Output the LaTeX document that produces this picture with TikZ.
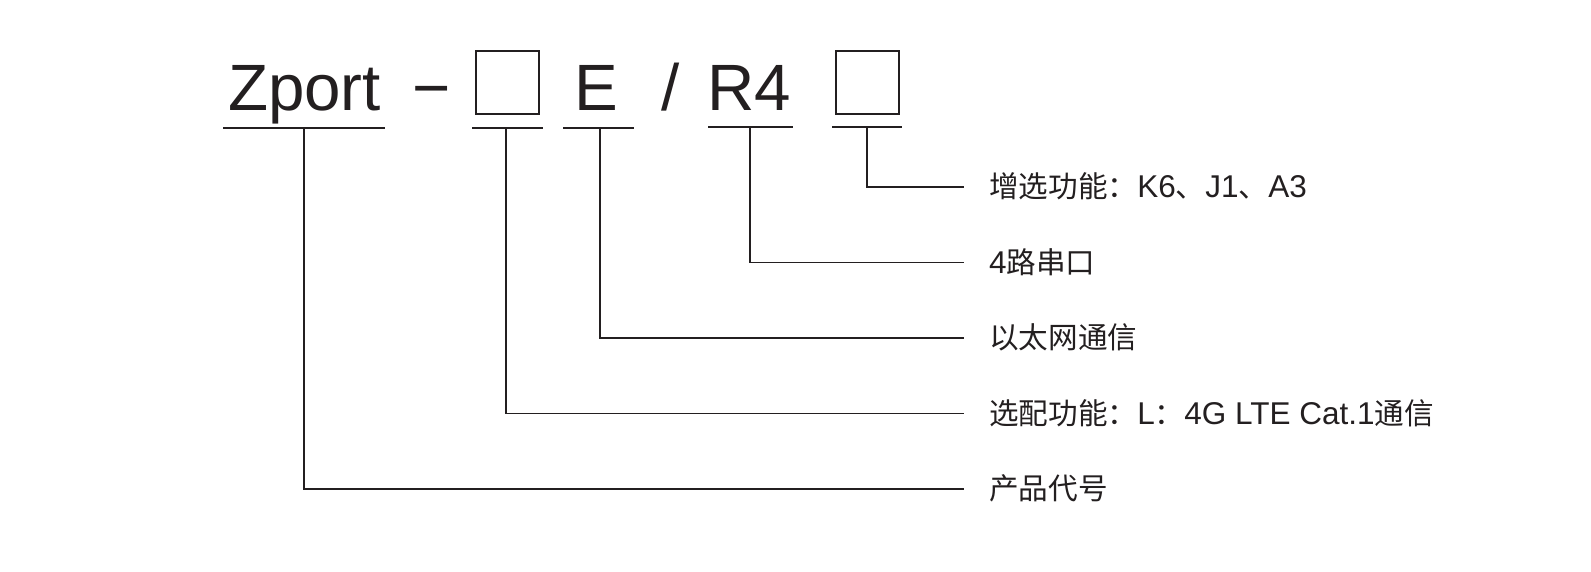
\documentclass[tikz,border=0pt]{standalone}
\usepackage{fontspec}
\setmainfont{Liberation Sans}
\newfontfamily\cjk{Noto Sans CJK SC}[Scale=0.94]
\definecolor{ink}{RGB}{35,31,32}
\begin{document}
\begin{tikzpicture}[x=1pt,y=-1pt,
  title/.style={font=\fontsize{65.5}{70}\selectfont, inner sep=0pt, anchor=base, text=ink},
  slot/.style={draw=ink, line width=2pt, minimum width=63pt, minimum height=63pt, inner sep=0pt},
  uline/.style={draw=ink, line width=1.6pt},
  lead/.style={draw=ink, line width=1.5pt},
  lab/.style={font=\fontsize{31.5}{36}\selectfont, inner sep=0pt, anchor=west, text height=26pt, text depth=4.5pt, text=ink}]
\useasboundingbox (0,0) rectangle (1591,571);
% title tokens
\node[title] (zp) at (304.5,110) {Zport};
\node[title] (dash) at (431.5,110) {−};
\node[slot] (b1) at (507.5,82.5) {};
\node[title] (e) at (596,110) {E};
\node[title] (sl) at (671,110) {/};
\node[title] (r4) at (749.5,110) {R4};
\node[slot] (b2) at (867,82) {};
% underlines
\coordinate (u1) at (304,128);
\coordinate (u2) at (506,128);
\coordinate (u3) at (600,128);
\coordinate (u4) at (750,127);
\coordinate (u5) at (867,127);
\draw[uline] (223,128) -- (385,128);
\draw[uline] (472,128) -- (543,128);
\draw[uline] (563,128) -- (634,128);
\draw[uline] (708,127) -- (793,127);
\draw[uline] (832,127) -- (902,127);
% labels
\node[lab] (l5) at (989,187) {{\cjk 增选功能：}K6{\cjk 、}J1{\cjk 、}A3};
\node[lab] (l4) at (989,262.5) {4{\cjk 路串口}};
\node[lab] (l3) at (989,338) {{\cjk 以太网通信}};
\node[lab] (l2) at (989,413.5) {{\cjk 选配功能：}L{\cjk ：}4G LTE Cat.1{\cjk 通信}};
\node[lab] (l1) at (989,489) {{\cjk 产品代号}};
% leaders
\draw[lead] (u5) |- ([xshift=-25pt]l5.west);
\draw[lead] (u4) |- ([xshift=-25pt]l4.west);
\draw[lead] (u3) |- ([xshift=-25pt]l3.west);
\draw[lead] (u2) |- ([xshift=-25pt]l2.west);
\draw[lead] (u1) |- ([xshift=-25pt]l1.west);
\end{tikzpicture}
\end{document}
